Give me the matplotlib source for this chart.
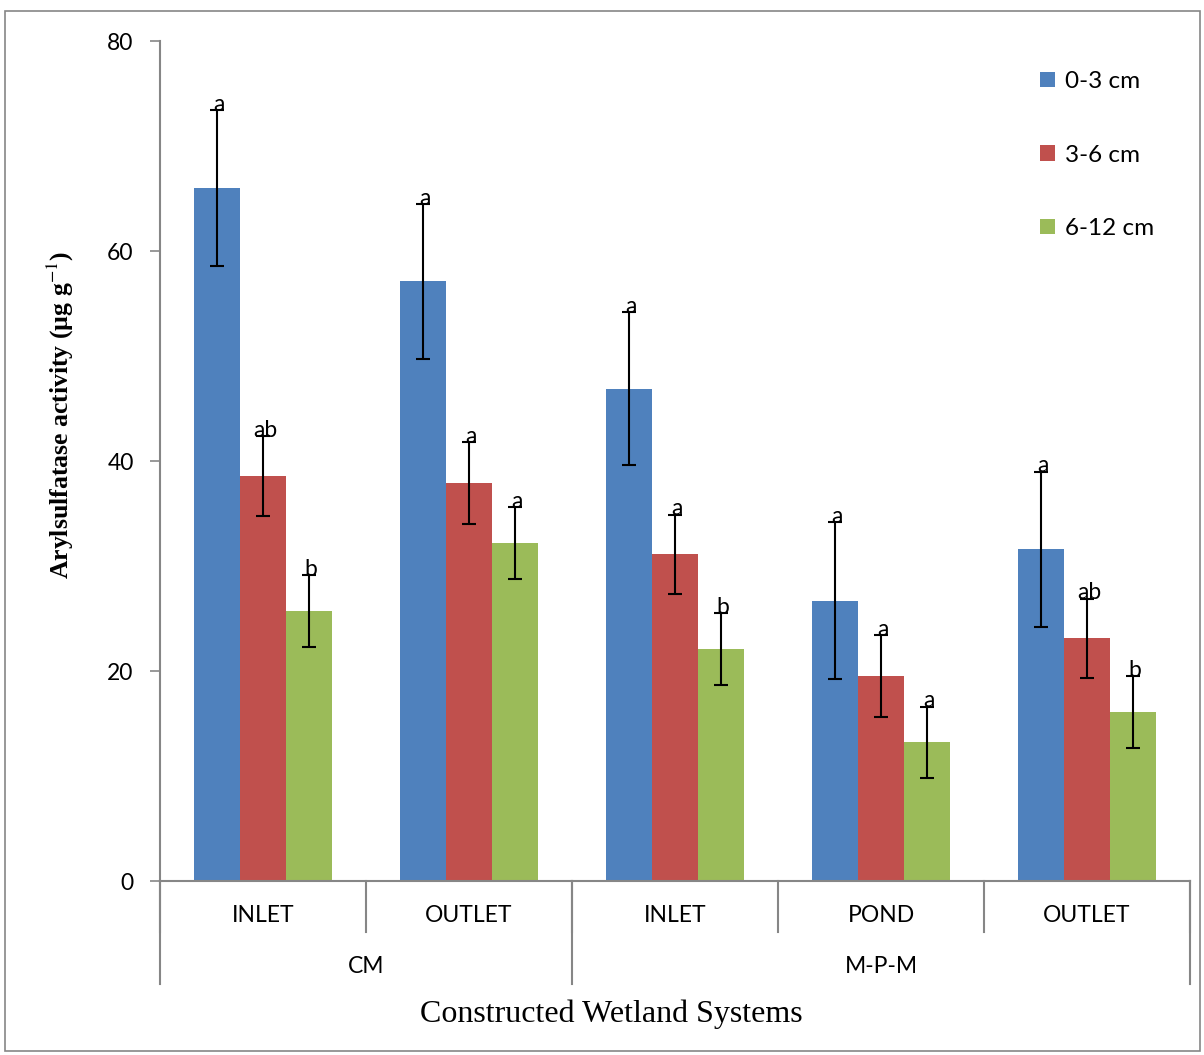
import numpy as np
import matplotlib.pyplot as plt
import matplotlib.transforms as mtransforms
from matplotlib.patches import Rectangle

sites = ['INLET', 'OUTLET', 'INLET', 'POND', 'OUTLET']
systems = ['CM', 'M-P-M']
system_sizes = [2, 3]
depths = ['0-3 cm', '3-6 cm', '6-12 cm']

depth_0_3 = [66.0, 57.1, 46.9, 26.7, 31.6]
depth_3_6 = [38.6, 37.9, 31.1, 19.5, 23.1]
depth_6_12 = [25.7, 32.2, 22.1, 13.2, 16.1]
err_0_3 = [7.4, 7.4, 7.3, 7.5, 7.4]
err_3_6 = [3.8, 3.9, 3.8, 3.9, 3.8]
err_6_12 = [3.4, 3.4, 3.4, 3.4, 3.4]
letters_0_3 = ['a', 'a', 'a', 'a', 'a']
letters_3_6 = ['ab', 'a', 'a', 'a', 'ab']
letters_6_12 = ['b', 'a', 'b', 'a', 'b']

colors = ['#4F81BD', '#C0504D', '#9BBB59']
grey = '#868686'
sans = ['Lato', 'DejaVu Sans']
serif = 'Liberation Serif'

plt.rcParams['mathtext.fontset'] = 'stix'
fig = plt.figure(figsize=(12.04, 10.55), dpi=100)
ax = fig.add_axes([0.1329, 0.1649, 0.8555, 0.7962])

x = np.arange(len(sites))
w = 0.223
series = [depth_0_3, depth_3_6, depth_6_12]
errs = [err_0_3, err_3_6, err_6_12]
lets = [letters_0_3, letters_3_6, letters_6_12]
for i in range(3):
    xs = x + (i - 1) * w
    ax.bar(xs, series[i], w, color=colors[i], label=depths[i], zorder=2)
    ax.errorbar(xs, series[i], yerr=errs[i], fmt='none', ecolor='black',
                elinewidth=1.5, capsize=5, capthick=1.5, zorder=3)
    for xi, v, e, t in zip(xs, series[i], errs[i], lets[i]):
        ax.text(xi + 0.01, v + e - 0.45, t, ha='center', va='bottom',
                fontsize=16.5, family=sans, zorder=4)

ax.set_xlim(-0.5, len(sites) - 0.5)
ax.set_ylim(0, 80)
ax.set_yticks([0, 20, 40, 60, 80])
ax.tick_params(axis='y', labelsize=16.5, color=grey, length=7, width=1.2, pad=12)
for lab in ax.get_yticklabels():
    lab.set_family(sans)
ax.set_xticks([])
for s in ['top', 'right']:
    ax.spines[s].set_visible(False)
for s in ['left', 'bottom']:
    ax.spines[s].set_color(grey)
    ax.spines[s].set_linewidth(1.5)

# two-level category axis
trans = mtransforms.blended_transform_factory(ax.transData, ax.transAxes)
for b in np.arange(-0.5, len(sites), 1.0):
    ax.plot([b, b], [0, -0.061], transform=trans, color=grey, lw=1.5, clip_on=False)
for xi, s in zip(x, sites):
    ax.text(xi, -0.041, s, transform=trans, ha='center', va='center',
            fontsize=16.5, family=sans)
start = -0.5
ax.plot([start, start], [0, -0.122], transform=trans, color=grey, lw=1.5, clip_on=False)
for name, n in zip(systems, system_sizes):
    end = start + n
    ax.plot([end, end], [0, -0.122], transform=trans, color=grey, lw=1.5, clip_on=False)
    ax.text((start + end) / 2, -0.102, name, transform=trans, ha='center',
            va='center', fontsize=16.5, family=sans)
    start = end

fig.text(0.508, 0.039, 'Constructed Wetland Systems', ha='center', va='center',
         fontsize=23, family=serif)
fig.text(0.05, 0.607, r'Arylsulfatase activity (µg g$^{-1}$)', rotation=90,
         ha='center', va='center', fontsize=18.5, family=serif, fontweight='bold')

leg = ax.legend(loc='upper right', bbox_to_anchor=(0.986, 0.99), frameon=False,
                prop={'family': sans, 'size': 17.5}, handlelength=0.6,
                handleheight=0.6, handletextpad=0.4, labelspacing=2.15)

fig.patches.append(Rectangle((0.004, 0.004), 0.993, 0.986, transform=fig.transFigure,
                             fill=False, edgecolor=grey, lw=1.2))

fig.savefig('out.png', dpi=100)
